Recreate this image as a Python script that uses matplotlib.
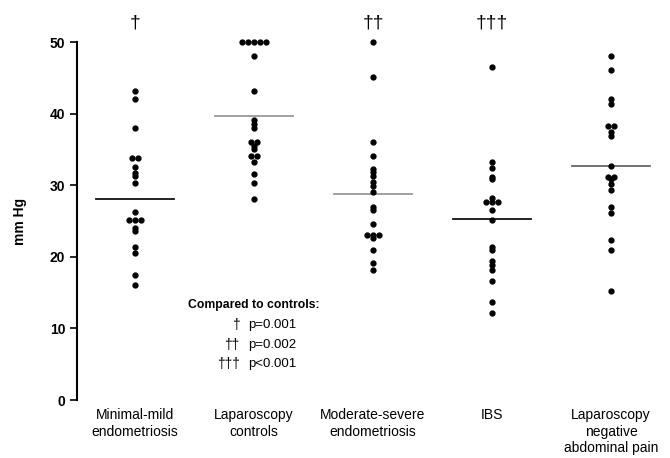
import matplotlib
matplotlib.use("Agg")
import matplotlib.pyplot as plt
import numpy as np

plt.rcParams['font.family'] = ['Liberation Sans', 'DejaVu Sans']

groups = ['Minimal-mild\nendometriosis', 'Laparoscopy\ncontrols',
          'Moderate-severe\nendometriosis', 'IBS',
          'Laparoscopy\nnegative\nabdominal pain']

minimal_mild = [43.1, 42.0, 38.0, 33.8, 33.8, 32.6, 31.7, 31.3, 30.3, 26.2,
                25.2, 25.2, 25.2, 24.0, 23.6, 21.3, 20.6, 17.5, 16.0]
lap_controls = [50, 50, 50, 50, 50, 48.1, 43.1, 39.1, 38.6, 38.0, 36.1, 36.1,
                35.5, 35.0, 34.1, 34.1, 33.3, 31.6, 30.3, 28.1]
mod_severe = [50.0, 45.1, 36.1, 34.1, 32.3, 31.8, 31.3, 30.4, 29.9, 29.1,
              27.0, 26.5, 24.6, 23.0, 23.0, 23.0, 22.6, 21.0, 19.2, 18.1]
ibs = [46.5, 33.3, 32.4, 31.2, 30.8, 28.2, 27.7, 27.7, 27.7, 26.6, 25.2,
       21.3, 20.9, 19.4, 18.8, 18.1, 16.6, 13.7, 12.1]
lap_negative = [48.1, 46.1, 42.1, 41.3, 38.2, 38.2, 37.5, 36.9, 32.7, 31.2,
                31.2, 30.8, 30.2, 29.3, 26.9, 26.1, 22.4, 21.0, 15.2]

center_lines = [28.1, 39.6, 28.8, 25.3, 32.7]
line_colors = ['#111111', '#999999', '#999999', '#111111', '#666666']
marks = ['\u2020', '', '\u2020\u2020', '\u2020\u2020\u2020', '']

series = [minimal_mild, lap_controls, mod_severe, ibs, lap_negative]


def spread(vals, step=0.052):
    # side by side for equal values
    xs = np.zeros(len(vals))
    vals = np.asarray(vals)
    for v in np.unique(vals):
        idx = np.where(vals == v)[0]
        n = len(idx)
        xs[idx] = (np.arange(n) - (n - 1) / 2) * step
    return xs


fig = plt.figure(figsize=(6.7, 4.58), dpi=100)
ax = fig.add_axes([77 / 670, 1 - 400 / 458, (660 - 77) / 670, (400 - 42) / 458])

for i, vals in enumerate(series):
    pos = i + 1
    ax.plot(pos + spread(vals), vals, 'o', color='black', markersize=3.5,
            clip_on=False, zorder=3)
    ax.plot([pos - 0.33, pos + 0.33], [center_lines[i]] * 2,
            color=line_colors[i], linewidth=1.3, zorder=2)
    if marks[i]:
        ax.text(pos, 52.7, marks[i], ha='center', va='center', fontsize=14)

ax.set_xlim(0.5126, 5.412)
ax.set_ylim(0, 50)
ax.set_yticks([0, 10, 20, 30, 40, 50])
ax.tick_params(axis='y', labelsize=10, length=5, width=1.2, direction='out')
for lab in ax.get_yticklabels():
    lab.set_fontweight('bold')
ax.set_xticks([1, 2, 3, 4, 5])
ax.set_xticklabels(groups, fontsize=10, linespacing=1.2)
ax.tick_params(axis='x', length=0, pad=6)
for s in ['top', 'right', 'bottom']:
    ax.spines[s].set_visible(False)
ax.spines['left'].set_linewidth(1.5)
ax.set_ylabel('mm Hg', fontsize=10, fontweight='bold', labelpad=16)

ax.text(2.0, 13.3, 'Compared to controls:', ha='center', va='center',
        fontsize=8.8, fontweight='bold')
legend_rows = [('\u2020', 'p=0.001'), ('\u2020\u2020', 'p=0.002'),
               ('\u2020\u2020\u2020', 'p<0.001')]
for k, (m, p) in enumerate(legend_rows):
    yy = 10.5 - k * 2.75
    ax.text(1.88, yy, m, ha='right', va='center', fontsize=10)
    ax.text(1.95, yy, p, ha='left', va='center', fontsize=9.5)

fig.savefig('out.png', dpi=100)
